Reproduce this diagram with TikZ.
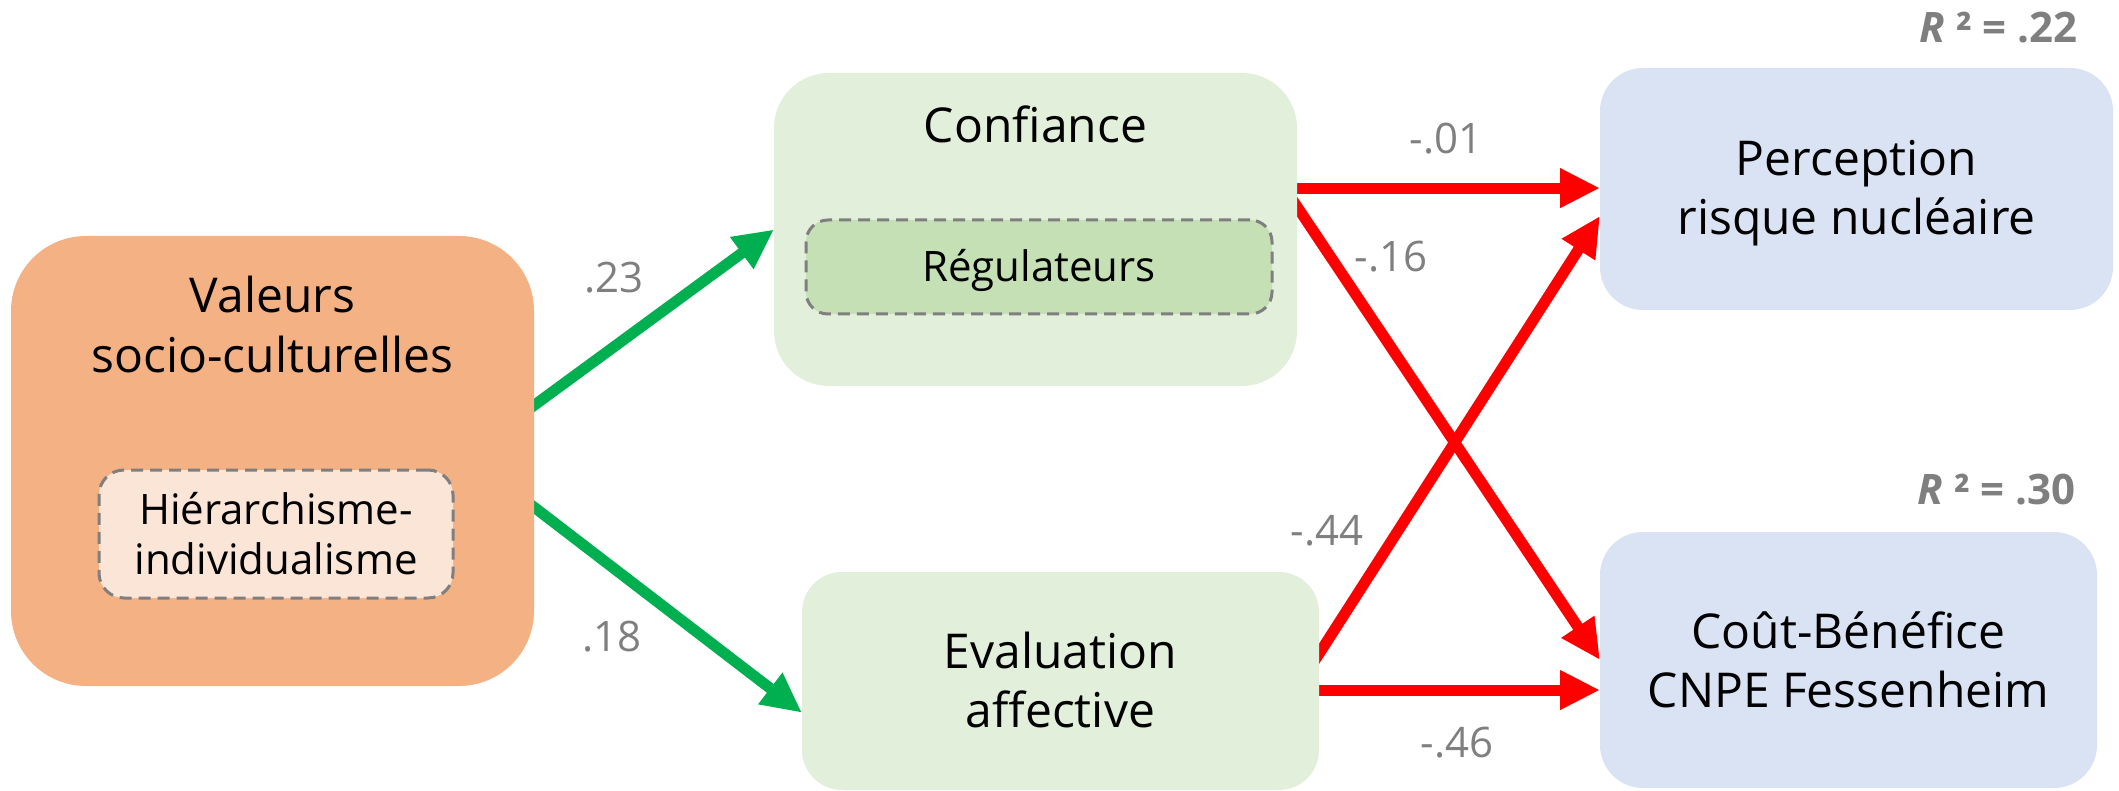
\documentclass[tikz,border=0pt]{standalone}
\usepackage{fontspec}
\setmainfont{Open Sans}
\usetikzlibrary{arrows.meta,calc}
\definecolor{orangebox}{HTML}{F4B183}
\definecolor{orangein}{HTML}{FBE5D6}
\definecolor{greenbox}{HTML}{E2EFDA}
\definecolor{greenin}{HTML}{C5E0B4}
\definecolor{bluebox}{HTML}{DAE3F3}
\definecolor{arrowgreen}{HTML}{00B050}
\definecolor{arrowred}{HTML}{FF0000}
\definecolor{coefgray}{HTML}{7F7F7F}
\definecolor{dashgray}{HTML}{7F7F7F}
\pgfdeclarelayer{bg}
\pgfsetlayers{bg,main}
\begin{document}
\begin{tikzpicture}[x=1pt,y=-1pt,
  box/.style={inner sep=0pt, outer sep=0pt, draw=none},
  innerbox/.style={draw=dashgray, line width=3pt, dash pattern=on 12pt off 7pt,
    rounded corners=22pt, inner sep=0pt, outer sep=0pt},
  maintext/.style={font=\fontsize{48}{59}\selectfont, align=center, anchor=base, inner sep=0pt},
  innertext/.style={font=\fontsize{42}{50}\selectfont, align=center, anchor=base, inner sep=0pt},
  coef/.style={font=\fontsize{42}{50}\selectfont, text=coefgray, inner sep=0pt},
  rsq/.style={font=\fontsize{42}{50}\selectfont\bfseries, text=coefgray, anchor=base east, inner sep=0pt},
  garrow/.style={draw=arrowgreen, line width=11pt, shorten <=-10pt,
    -{Triangle[length=40pt,width=37pt]}},
  rarrow/.style={draw=arrowred, line width=11pt, shorten <=-10pt,
    -{Triangle[length=40pt,width=37pt]}}
]
\useasboundingbox (0,0) rectangle (2119,791);

% boxes
\node[box, fill=orangebox, minimum width=523pt, minimum height=450pt, rounded corners=75pt] (val) at (272.5,461) {};
\node[innerbox, fill=orangein, minimum width=354pt, minimum height=128pt, rounded corners=25pt] (hier) at (276,534) {};
\node[box, fill=greenbox, minimum width=523pt, minimum height=313pt, rounded corners=55pt] (conf) at (1035.5,229.5) {};
\node[innerbox, fill=greenin, minimum width=466pt, minimum height=94pt] (regl) at (1039,267) {};
\node[box, fill=greenbox, minimum width=517pt, minimum height=218pt, rounded corners=40pt] (ev) at (1060.5,681) {};
\node[box, fill=bluebox, minimum width=513pt, minimum height=242pt, rounded corners=43pt] (perc) at (1856.5,189) {};
\node[box, fill=bluebox, minimum width=497pt, minimum height=256pt, rounded corners=43pt] (cout) at (1848.5,660) {};

% texts (base anchor = baseline of the last line)
\node[maintext] (valt) at (272.5,372) {Valeurs\\socio-culturelles};
\node[innertext] (hiert) at (276,574) {Hiérarchisme-\\individualisme};
\node[maintext] (conft) at (1035.5,143) {Confiance};
\node[innertext] (reglt) at (1039,282) {Régulateurs};
\node[maintext] (evt) at (1060.5,727) {Evaluation\\affective};
\node[maintext] (perct) at (1856.5,235) {Perception\\risque nucléaire};
\node[maintext] (coutt) at (1848.5,707) {Coût-Bénéfice\\CNPE Fessenheim};
\node[rsq] (r1) at (2078,43) {{\itshape R} ² = .22};
\node[rsq] (r2) at (2076,504) {{\itshape R} ² = .30};

% coefficients
\node[coef] (c1) at (614,278) {.23};
\node[coef] (c2) at (612,637) {.18};
\node[coef] (c3) at (1446,139) {-.01};
\node[coef] (c4) at (1391,257) {-.16};
\node[coef] (c5) at (1327,531) {-.44};
\node[coef] (c6) at (1457,743) {-.46};

% arrows
\begin{pgfonlayer}{bg}
\draw[garrow] (val.12.3) -- (conf.west);
\draw[garrow] (val.-10.4) -- (ev.187.06);
\draw[rarrow] (conf.9.87) -- (conf.9.87 -| perc.west);
\draw[rarrow] (conf.5.35) -- (cout.west);
\draw[rarrow] (ev.6.4) -- (perc.186.9);
\draw[rarrow] (ev.-2.88) -- (ev.-2.88 -| cout.west);
\end{pgfonlayer}
\end{tikzpicture}
\end{document}
